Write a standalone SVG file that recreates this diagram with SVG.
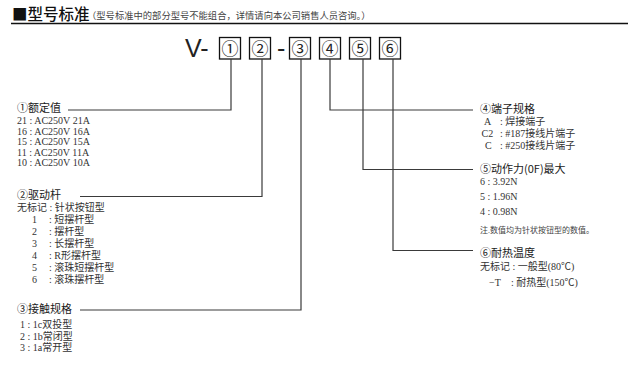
<svg xmlns="http://www.w3.org/2000/svg" width="640" height="392" viewBox="0 0 640 392">
<style>
.h{font-family:"Noto Sans CJK SC","Noto Sans",sans-serif;font-size:11px;font-weight:400;fill:#1a1a1a}
.t{font-family:"Liberation Serif","Noto Sans CJK SC",serif;font-size:10px;fill:#333}
.n{font-family:"Liberation Serif","Noto Sans CJK SC",serif;font-size:8px;fill:#444}
.box{fill:#fff;stroke:#111;stroke-width:1.3}
.bn{font-family:"Noto Sans CJK SC",sans-serif;font-size:17px;fill:#222;text-anchor:middle}
.c{fill:none;stroke:#3a3a3a;stroke-width:1.2}
</style>
<g id="title">
<text x="12" y="20" font-family="Noto Sans CJK SC,sans-serif" font-size="15.5" fill="#111" font-weight="500">■型号标准</text>
<text x="87" y="19" font-family="Liberation Serif,Noto Sans CJK SC,serif" font-size="9.3" fill="#444">（型号标准中的部分型号不能组合，详情请向本公司销售人员咨询。）</text>
<line x1="11" y1="23.5" x2="628" y2="23.5" stroke="#111" stroke-width="1.5"/>
</g>
<g id="model">
<text x="185" y="57" font-family="Liberation Sans,sans-serif" font-size="25" fill="#222">V-</text>
<text x="277" y="57" font-family="Liberation Sans,sans-serif" font-size="25" fill="#222">-</text>
<rect class="box" x="219.5" y="37.5" width="21" height="21.5"/><text class="bn" x="230" y="54.5">①</text>
<rect class="box" x="249.5" y="37.5" width="21" height="21.5"/><text class="bn" x="260" y="54.5">②</text>
<rect class="box" x="289.5" y="37.5" width="21" height="21.5"/><text class="bn" x="300" y="54.5">③</text>
<rect class="box" x="319.5" y="37.5" width="21" height="21.5"/><text class="bn" x="330" y="54.5">④</text>
<rect class="box" x="349.5" y="37.5" width="21" height="21.5"/><text class="bn" x="360" y="54.5">⑤</text>
<rect class="box" x="379.5" y="37.5" width="21" height="21.5"/><text class="bn" x="390" y="54.5">⑥</text>
</g>
<g id="connectors">
<polyline class="c" points="231,59 231,110 68,110"/>
<polyline class="c" points="262,59 262,196.5 80,196.5"/>
<polyline class="c" points="301,59 301,310 80,310"/>
<polyline class="c" points="330,59 330,110 473,110"/>
<polyline class="c" points="363,59 363,169.5 473,169.5"/>
<polyline class="c" points="393,59 393,250.5 473,250.5"/>
</g>
<g id="rating">
<text class="h" x="17" y="112">①额定值</text>
<text class="t" x="17" y="124">21 : AC250V 21A</text>
<text class="t" x="17" y="134.5">16 : AC250V 16A</text>
<text class="t" x="17" y="145">15 : AC250V 15A</text>
<text class="t" x="17" y="155.5">11 : AC250V 11A</text>
<text class="t" x="17" y="166">10 : AC250V 10A</text>
</g>
<g id="actuator">
<text class="h" x="17" y="198.5">②驱动杆</text>
<text class="t" x="17" y="211">无标记 : 针状按钮型</text>
<text class="t" y="223"><tspan x="32">1</tspan><tspan x="49">: 短摆杆型</tspan></text>
<text class="t" y="235"><tspan x="32">2</tspan><tspan x="49">: 摆杆型</tspan></text>
<text class="t" y="247"><tspan x="32">3</tspan><tspan x="49">: 长摆杆型</tspan></text>
<text class="t" y="259"><tspan x="32">4</tspan><tspan x="49">: R形摆杆型</tspan></text>
<text class="t" y="271"><tspan x="32">5</tspan><tspan x="49">: 滚珠短摆杆型</tspan></text>
<text class="t" y="283"><tspan x="32">6</tspan><tspan x="49">: 滚珠摆杆型</tspan></text>
</g>
<g id="contact">
<text class="h" x="17" y="313">③接触规格</text>
<text class="t" x="20" y="327.5">1 : 1c双投型</text>
<text class="t" x="20" y="339.5">2 : 1b常闭型</text>
<text class="t" x="20" y="351">3 : 1a常开型</text>
</g>
<g id="terminal">
<text class="h" x="480" y="113">④端子规格</text>
<text class="t" y="125"><tspan x="484">A</tspan><tspan x="500">: 焊接端子</tspan></text>
<text class="t" y="137"><tspan x="481.5">C2</tspan><tspan x="500">: #187接线片端子</tspan></text>
<text class="t" y="149"><tspan x="485">C</tspan><tspan x="500">: #250接线片端子</tspan></text>
</g>
<g id="force">
<text class="h" x="480" y="173">⑤动作力(0F)最大</text>
<text class="t" x="480" y="185">6 : 3.92N</text>
<text class="t" x="480" y="200">5 : 1.96N</text>
<text class="t" x="480" y="215">4 : 0.98N</text>
<text class="n" x="480" y="233">注.数值均为针状按钮型的数值。</text>
</g>
<g id="heat">
<text class="h" x="480" y="256.5">⑥耐热温度</text>
<text class="t" x="480" y="269.5">无标记 : 一般型(80℃)</text>
<text class="t" y="285.5"><tspan x="489">−T</tspan><tspan x="511">: 耐热型(150℃)</tspan></text>
</g>
</svg>
